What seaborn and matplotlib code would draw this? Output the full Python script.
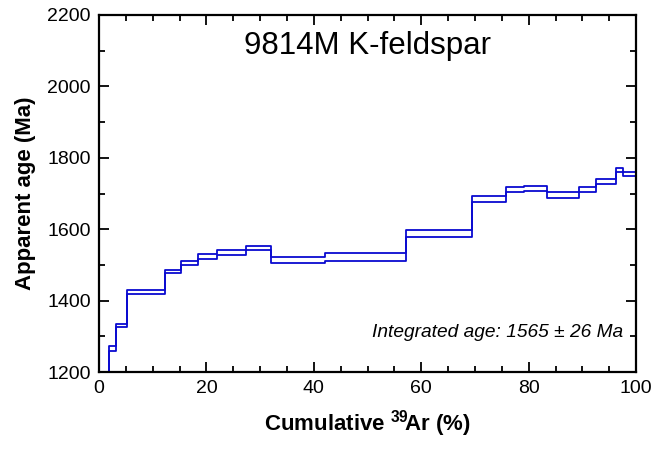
import numpy as np
import pandas as pd
import matplotlib
matplotlib.use("Agg")
import matplotlib.pyplot as plt
import seaborn as sns

# Step edges (cumulative 39Ar %) and apparent ages (Ma), upper and lower 1-sigma envelopes
edges = [0, 1.9, 3.2, 5.2, 12.2, 15.3, 18.5, 22.0, 27.4, 32.0, 42.1, 57.1,
         69.5, 75.8, 79.1, 83.4, 89.4, 92.5, 96.3, 97.6, 100]
upper = [1150, 1272, 1334, 1431, 1486, 1510, 1530, 1543, 1554, 1521, 1532,
         1599, 1693, 1717, 1722, 1704, 1717, 1741, 1772, 1761]
lower = [1140, 1260, 1325, 1418, 1476, 1499, 1517, 1528, 1543, 1505, 1511,
         1578, 1676, 1703, 1708, 1688, 1703, 1727, 1761, 1749]
x_ticks = [0, 20, 40, 60, 80, 100]
y_ticks = [1200, 1400, 1600, 1800, 2000, 2200]
title = "9814M K-feldspar"
note = "Integrated age: 1565 \u00b1 26 Ma"

sns.set_style("ticks")
plt.rcParams['font.family'] = ['Liberation Sans', 'DejaVu Sans']
plt.rcParams['mathtext.fontset'] = 'custom'
plt.rcParams['mathtext.rm'] = 'Liberation Sans'
plt.rcParams['mathtext.bf'] = 'Liberation Sans:bold'
plt.rcParams['text.color'] = 'black'
plt.rcParams['axes.labelcolor'] = 'black'
plt.rcParams['xtick.color'] = 'black'
plt.rcParams['ytick.color'] = 'black'

rows = []
for name, vals in (("upper", upper), ("lower", lower)):
    vv = list(vals) + [vals[-1]]
    for x, y in zip(edges, vv):
        rows.append({"x": x, "age": y, "bound": name})
df = pd.DataFrame(rows)

fig = plt.figure(figsize=(6.71, 4.5), dpi=100)
ax = fig.add_axes([0.1475, 0.1733, 0.8005, 0.7934])

sns.lineplot(data=df, x="x", y="age", hue="bound", units="bound", estimator=None,
             sort=False, drawstyle="steps-post", palette=["#0a0ad0", "#0a0ad0"],
             linewidth=1.3, legend=False, ax=ax)

ax.set_xlim(0, 100)
ax.set_ylim(1200, 2200)
ax.set_xticks(x_ticks)
ax.set_yticks(y_ticks)
ax.set_xticks(np.arange(0, 101, 5), minor=True)
ax.set_yticks(np.arange(1200, 2201, 100), minor=True)
ax.tick_params(which="both", direction="in", top=True, right=True, width=1.3,
               labelsize=14, color="black", labelcolor="black")
ax.tick_params(which="major", length=7, pad=6)
ax.tick_params(which="minor", length=4)
for s in ax.spines.values():
    s.set_linewidth(1.6)
    s.set_color("black")

ax.set_xlabel(r"Cumulative $^{\mathbf{39}}\!$Ar (%)", fontsize=16, fontweight="bold",
              labelpad=8, color="black")
ax.set_ylabel("Apparent age (Ma)", fontsize=16, fontweight="bold", labelpad=8, color="black")
ax.text(0.5, 0.912, title, transform=ax.transAxes, ha="center", va="center",
        fontsize=22.5, color="black")
ax.text(0.975, 0.11, note, transform=ax.transAxes, ha="right", va="center",
        fontsize=13.8, style="italic", color="black")

fig.savefig("out.png", dpi=100)
